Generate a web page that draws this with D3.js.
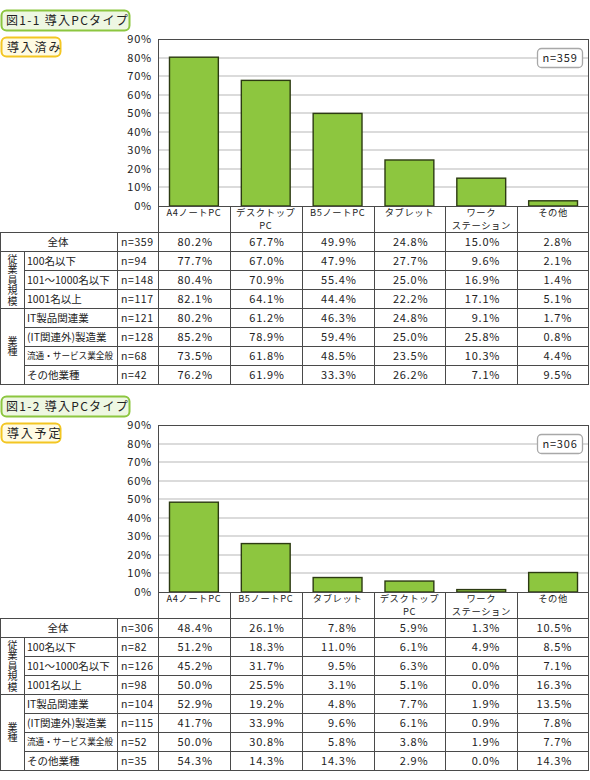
<!DOCTYPE html>
<html><head><meta charset="utf-8">
<script src="https://cdn.jsdelivr.net/npm/d3@7"></script>
<style>
html,body{margin:0;padding:0;background:#fff;}
svg{display:block;font-family:"Noto Sans CJK JP","Noto Sans",sans-serif;}
.vert{writing-mode:vertical-rl;text-orientation:upright;}
</style></head><body>
<svg id="c" width="590" height="780"></svg>
<script>
// ---------- data ----------
const yTicks = [0,10,20,30,40,50,60,70,80,90];
const rowLabels = ["全体","100名以下","101～1000名以下","1001名以上","IT製品関連業","(IT関連外)製造業","流通・サービス業全般","その他業種"];
const groupLabels = ["従業員規模","業種"];

const title1 = "図1-1 導入PCタイプ";
const subtitle1 = "導入済み";
const categories1 = ["A4ノートPC","デスクトップ\nPC","B5ノートPC","タブレット","ワーク\nステーション","その他"];
const ns1 = [359,94,148,117,121,128,68,42];
const table1 = [
  [80.2,67.7,49.9,24.8,15.0,2.8],
  [77.7,67.0,47.9,27.7,9.6,2.1],
  [80.4,70.9,55.4,25.0,16.9,1.4],
  [82.1,64.1,44.4,22.2,17.1,5.1],
  [80.2,61.2,46.3,24.8,9.1,1.7],
  [85.2,78.9,59.4,25.0,25.8,0.8],
  [73.5,61.8,48.5,23.5,10.3,4.4],
  [76.2,61.9,33.3,26.2,7.1,9.5]
];

const title2 = "図1-2 導入PCタイプ";
const subtitle2 = "導入予定";
const categories2 = ["A4ノートPC","B5ノートPC","タブレット","デスクトップ\nPC","ワーク\nステーション","その他"];
const ns2 = [306,82,126,98,104,115,52,35];
const table2 = [
  [48.4,26.1,7.8,5.9,1.3,10.5],
  [51.2,18.3,11.0,6.1,4.9,8.5],
  [45.2,31.7,9.5,6.3,0.0,7.1],
  [50.0,25.5,3.1,5.1,0.0,16.3],
  [52.9,19.2,4.8,7.7,1.9,13.5],
  [41.7,33.9,9.6,6.1,0.9,7.8],
  [50.0,30.8,5.8,3.8,1.9,7.7],
  [54.3,14.3,14.3,2.9,0.0,14.3]
];

// ---------- drawing ----------
const svg = d3.select("#c");
const LINE = "#4a4a4a";
const TXT = "#222";

function panel(offY, title, subtitle, cats, ns, table){
  const g = svg.append("g").attr("transform", `translate(0,${offY})`);
  const L = 158, R = 589, T = 39, B = 206, HB = 232, rowH = 19;

  // title boxes
  g.append("rect").attr("x",1.5).attr("y",10.5).attr("width",128).attr("height",20)
    .attr("rx",5).attr("fill","#eef7e2").attr("stroke","#8cc63f").attr("stroke-width",2);
  g.append("text").attr("x",6).attr("y",21).attr("dy","0.35em")
    .attr("font-size",12).attr("letter-spacing",1.3).attr("fill",TXT).text(title);
  g.append("rect").attr("x",1.5).attr("y",37.5).attr("width",59).attr("height",19)
    .attr("rx",5).attr("fill","#fffbe3").attr("stroke","#f3c623").attr("stroke-width",2);
  g.append("text").attr("x",7).attr("y",47.5).attr("dy","0.35em")
    .attr("font-size",12).attr("letter-spacing",1.8).attr("fill",TXT).text(subtitle);

  const y = d3.scaleLinear().domain([0,90]).range([B,T]);
  const x = d3.scaleBand().domain(cats).range([L,R]).paddingInner(0.32).paddingOuter(0.16);
  const step = x.step();

  // gridlines
  g.append("g").selectAll("line").data(yTicks.filter(t=>t>0 && t<90)).join("line")
    .attr("x1",L).attr("x2",R).attr("y1",d=>Math.round(y(d))).attr("y2",d=>Math.round(y(d)))
    .attr("stroke","#cfcfcf").attr("stroke-width",1.6);

  // y axis labels
  const yAxis = d3.axisLeft(y).tickValues(yTicks).tickFormat(d=>d+"%").tickSize(0).tickPadding(6);
  const ya = g.append("g").attr("transform",`translate(${L},0)`).call(yAxis);
  ya.select(".domain").remove();
  ya.selectAll("text").attr("font-size",11).attr("letter-spacing",0.8).attr("fill",TXT)
    .attr("font-family",'"Noto Sans CJK JP",sans-serif');

  // bars
  g.append("g").selectAll("rect").data(cats.map((c,i)=>({c,v:table[0][i]}))).join("rect")
    .attr("x",d=>x(d.c)).attr("width",x.bandwidth())
    .attr("y",d=>y(d.v)).attr("height",d=>B-y(d.v))
    .attr("fill","#8dc63f").attr("stroke","#2c3a12").attr("stroke-width",1.4);

  // plot frame
  g.append("rect").attr("x",L+0.5).attr("y",T+0.5).attr("width",R-L-1).attr("height",B-T)
    .attr("fill","none").attr("stroke",LINE).attr("stroke-width",1);

  // n box
  g.append("rect").attr("x",537.5).attr("y",48.5).attr("width",45).attr("height",19).attr("rx",4)
    .attr("fill","#fff").attr("stroke","#a8a8a8").attr("stroke-width",1.3);
  g.append("text").attr("x",560).attr("y",58).attr("dy","0.35em").attr("text-anchor","middle")
    .attr("font-size",11).attr("letter-spacing",0.8).attr("fill",TXT).text("n="+ns[0]);

  // category header labels
  const hdr = g.append("g");
  cats.forEach(c=>{
    const lines = c.split("\n");
    lines.forEach((ln,k)=>{
      hdr.append("text").attr("text-anchor","middle").attr("font-size",9.3)
        .attr("letter-spacing",0.6).attr("fill",TXT)
        .attr("x",x(c)+x.bandwidth()/2).attr("y",B+6.5+k*13.5).attr("dy","0.35em").text(ln);
    });
  });

  // column boundaries
  const colX = d3.range(cats.length+1).map(i=>Math.round(L + i*step));
  const Tb = HB + rowH*rowLabels.length;
  const lines = g.append("g").attr("stroke",LINE).attr("stroke-width",1).attr("shape-rendering","crispEdges");
  colX.forEach(cx=>{
    const xx = Math.min(cx, R-1) + 0.5;
    lines.append("line").attr("x1",xx).attr("x2",xx).attr("y1",B).attr("y2",Tb);
  });
  [0.5, 117.5].forEach(xx=>lines.append("line").attr("x1",xx).attr("x2",xx).attr("y1",HB).attr("y2",Tb));
  lines.append("line").attr("x1",24.5).attr("x2",24.5).attr("y1",HB+rowH).attr("y2",Tb);
  // horizontal lines
  const fullRows = [0,1,4,8];
  d3.range(rowLabels.length+1).forEach(r=>{
    const yy = HB + r*rowH + 0.5;
    const x1 = fullRows.includes(r) ? 0 : 24;
    lines.append("line").attr("x1",x1).attr("x2",R).attr("y1",yy).attr("y2",yy);
  });

  // row texts
  const tg = g.append("g").attr("font-size",10.5).attr("fill",TXT);
  rowLabels.forEach((lab,r)=>{
    const cy = HB + r*rowH + rowH/2 + 0.5;
    if(r===0){
      tg.append("text").attr("x",58).attr("y",cy).attr("dy","0.35em").attr("text-anchor","middle").text(lab);
    } else {
      const t = tg.append("text").attr("x",27).attr("y",cy).attr("dy","0.35em").text(lab);
      const w = t.node().getComputedTextLength();
      if(w > 86) t.attr("textLength",86).attr("lengthAdjust","spacingAndGlyphs").attr("font-size",9.5);
    }
    tg.append("text").attr("x",121).attr("y",cy).attr("dy","0.35em").attr("letter-spacing",0.6).text("n="+ns[r]);
    table[r].forEach((v,i)=>{
      tg.append("text").attr("x",x(cats[i])+x.bandwidth()/2+19).attr("y",cy).attr("dy","0.35em")
        .attr("text-anchor","end").attr("letter-spacing",0.8).attr("font-size",11).text(v.toFixed(1)+"%");
    });
  });
  // vertical group labels
  const groups = [{lab:groupLabels[0], r0:1, r1:4},{lab:groupLabels[1], r0:4, r1:8}];
  groups.forEach(gr=>{
    const mid = HB + (gr.r0+gr.r1)/2*rowH + 0.5;
    tg.append("text").attr("class","vert").attr("x",12.5).attr("y",mid)
      .attr("text-anchor","middle").attr("font-size",10).attr("letter-spacing",0.5).text(gr.lab);
  });
}

panel(0, title1, subtitle1, categories1, ns1, table1);
panel(386, title2, subtitle2, categories2, ns2, table2);
</script>
</body></html>
